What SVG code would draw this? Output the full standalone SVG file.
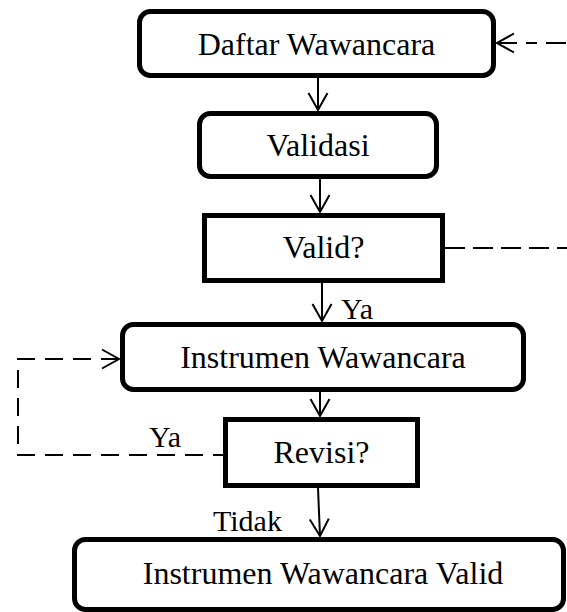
<svg xmlns="http://www.w3.org/2000/svg" width="567" height="612" viewBox="0 0 567 612">
<style>
.box{fill:#fff;stroke:#000;stroke-width:5}
.t{font-family:"Liberation Serif","Times New Roman",serif;font-size:32px;fill:#000;text-anchor:middle}
.lbl{font-family:"Liberation Serif","Times New Roman",serif;font-size:30px;fill:#000}
.c{fill:none;stroke:#000;stroke-width:2}
.d{fill:none;stroke:#000;stroke-width:2;stroke-dasharray:18 10}
</style>
<defs>
<marker id="ah" markerUnits="userSpaceOnUse" markerWidth="24" markerHeight="24" refX="0" refY="0" orient="auto-start-reverse" overflow="visible">
<path d="M-17 -9.5 L0 0 L-17 9.5" fill="none" stroke="#000" stroke-width="2"/>
</marker>
</defs>
<rect width="567" height="612" fill="#fff"/>
<g id="connectors">
<line class="c" x1="318" y1="78" x2="318" y2="110" marker-end="url(#ah)"/>
<line class="c" x1="320" y1="179" x2="320" y2="212" marker-end="url(#ah)"/>
<line class="c" x1="322" y1="283" x2="322" y2="321" marker-end="url(#ah)"/>
<line class="c" x1="320" y1="392" x2="320" y2="416" marker-end="url(#ah)"/>
<line class="c" x1="318" y1="488" x2="320" y2="536" marker-end="url(#ah)"/>
<line class="d" x1="445" y1="248" x2="567" y2="248" style="stroke-dasharray:20 8"/>
<line class="d" x1="497" y1="43" x2="567" y2="43" style="stroke-dasharray:20 9 11 9" marker-start="url(#ah)"/>
<polyline class="d" points="119,359 18,359 18,455 223,455" marker-start="url(#ah)"/>
<text class="lbl" x="341" y="319">Ya</text>
<text class="lbl" x="149" y="447">Ya</text>
<text class="lbl" x="213" y="531">Tidak</text>
</g>
<g id="daftar">
<rect class="box" x="139.5" y="11.5" width="354" height="64" rx="11"/>
<text class="t" x="316.5" y="55">Daftar Wawancara</text>
</g>
<g id="validasi">
<rect class="box" x="199.5" y="113.5" width="237" height="63" rx="11"/>
<text class="t" x="318" y="156">Validasi</text>
</g>
<g id="valid">
<rect class="box" x="204.5" y="215.5" width="238" height="65"/>
<text class="t" x="323.5" y="258">Valid?</text>
</g>
<g id="instrumen">
<rect class="box" x="122.5" y="324.5" width="401" height="65" rx="11"/>
<text class="t" x="323" y="368">Instrumen Wawancara</text>
</g>
<g id="revisi">
<rect class="box" x="225.5" y="419.5" width="192" height="66"/>
<text class="t" x="321.5" y="463">Revisi?</text>
</g>
<g id="final">
<rect class="box" x="74.5" y="539.5" width="489" height="70" rx="11"/>
<text class="t" x="323" y="584">Instrumen Wawancara Valid</text>
</g>
</svg>
